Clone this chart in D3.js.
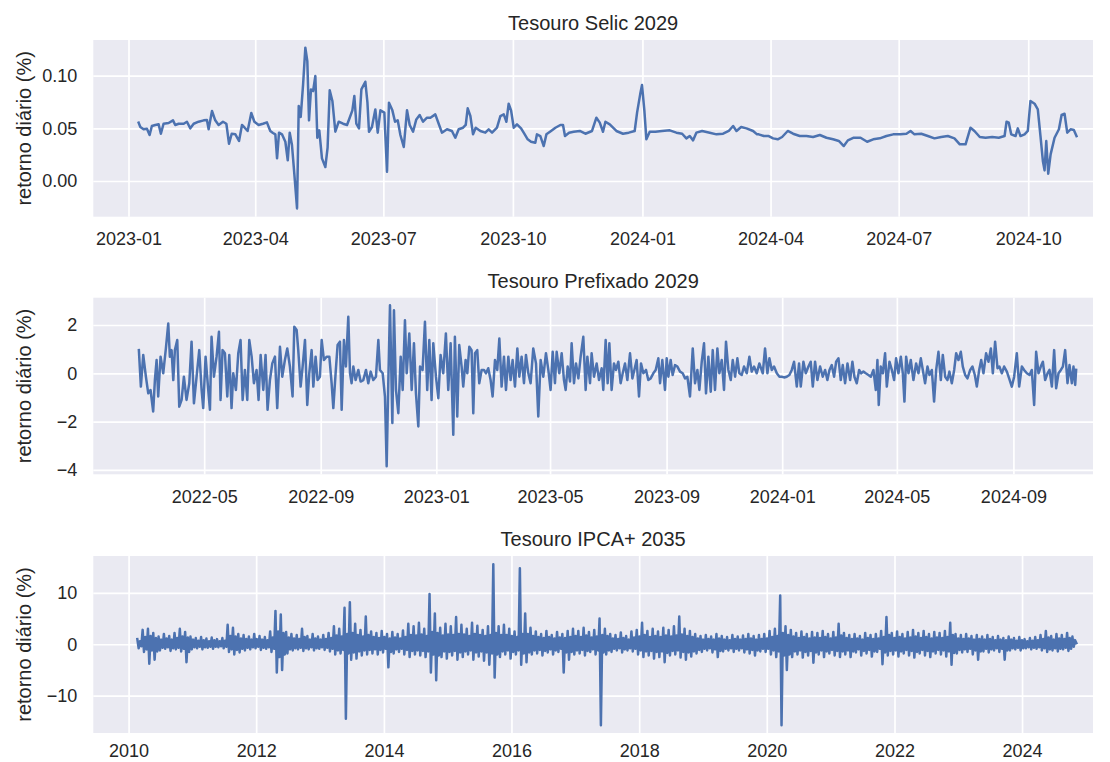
<!DOCTYPE html>
<html>
<head>
<meta charset="utf-8">
<script src="https://cdn.jsdelivr.net/npm/d3@7"></script>
<style>
  body { margin: 0; background: #ffffff; }
  text { font-family: "Liberation Sans", Arial, sans-serif; fill: #262626; }
</style>
</head>
<body>
<div id="chart"></div>
<script>
// Tesouro Selic 2029: days after 2023-01-01 and daily return (%)
const selicBase = "2023-01-01";
const selicDays = [7.2,8.4,10.7,13.1,15.0,16.6,19.0,21.4,23.0,24.9,28.5,31.6,33.2,35.6,39.2,41.5,43.9,46.3,49.8,53.4,55.7,56.9,59.3,61.6,64.0,67.1,69.5,71.4,73.3,75.9,78.5,80.6,82.5,84.6,87.2,89.4,92.4,95.5,98.3,100.7,102.6,104.3,105.5,106.9,109.0,111.4,113.1,114.5,116.1,117.8,119.7,120.9,122.3,124.0,125.6,127.0,128.2,129.6,131.1,132.7,134.1,135.5,137.4,139.8,141.4,142.9,144.8,146.9,149.3,152.4,155.2,157.1,159.0,160.4,161.8,163.7,165.4,168.2,169.7,170.8,172.9,175.3,177.0,178.9,181.7,183.6,185.0,187.4,189.3,191.2,193.1,195.5,197.8,199.7,202.1,204.4,206.8,209.2,212.0,
  214.4,217.9,220.3,222.6,226.2,229.7,232.1,234.5,237.6,239.5,240.9,242.8,244.7,246.6,249.9,253.4,255.8,258.2,261.7,264.1,266.5,268.4,270.0,271.7,273.6,275.9,278.8,281.1,283.5,285.9,288.9,290.1,292.5,294.9,296.8,300.1,303.2,306.7,308.6,310.0,312.9,316.2,320.5,324.5,329.2,332.3,334.7,337.0,338.7,341.8,346.5,351.2,355.3,359.5,361.2,363.6,364.7,366.4,367.8,370.2,374.2,378.9,384.4,389.1,393.2,396.2,398.6,401.0,403.3,407.4,412.8,417.6,422.3,426.3,429.4,431.8,435.1,438.9,443.6,446.4,
  447.6,451.2,454.7,457.8,461.1,464.2,468.2,472.0,476.7,481.5,486.2,491.0,495.7,500.4,504.5,508.0,510.9,515.1,519.9,524.6,528.9,533.6,538.3,543.1,548.3,552.5,555.4,558.2,563.0,567.7,572.4,577.2,581.9,586.6,590.4,594.5,598.0,600.8,604.6,608.7,613.4,618.1,622.2,623.6,625.2,626.9,630.0,631.6,633.5,636.4,638.7,640.6,643.5,645.8,647.7,649.4,650.6,651.8,653.2,654.9,657.7,660.8,662.7,664.8,666.7,669.1,671.4,673.3];
const selicValues = [0.0554,0.0513,0.0491,0.0497,0.0437,0.0522,0.0532,0.0538,0.0449,0.0544,0.0551,0.0576,0.0532,0.0544,0.0544,0.0563,0.0500,0.0544,0.0563,0.0576,0.0579,0.0491,0.0665,0.0576,0.0532,0.0563,0.0544,0.0354,0.0449,0.0443,0.0380,0.0532,0.0506,0.0475,0.0646,0.0563,0.0532,0.0544,0.0557,0.0475,0.0456,0.0443,0.0215,0.0459,0.0443,0.0373,0.0196,0.0459,0.0342,0.0063,-0.0260,0.0712,0.0608,0.0918,0.1266,0.1139,0.0576,0.0870,0.0854,0.0997,0.0411,0.0481,0.0215,0.0133,0.0316,0.0861,0.0760,0.0468,0.0563,0.0544,0.0532,0.0601,0.0671,0.0807,0.0544,0.0500,0.0870,0.0943,0.0744,0.0468,0.0513,0.0680,0.0459,0.0671,0.0649,0.0089,0.0744,0.0671,0.0563,0.0576,0.0437,0.0323,0.0671,0.0532,0.0468,0.0585,0.0627,0.0563,0.0601,
  0.0601,0.0633,0.0544,0.0459,0.0491,0.0475,0.0411,0.0491,0.0506,0.0532,0.0690,0.0617,0.0443,0.0506,0.0475,0.0459,0.0491,0.0459,0.0506,0.0617,0.0633,0.0563,0.0734,0.0671,0.0506,0.0538,0.0500,0.0449,0.0396,0.0373,0.0364,0.0443,0.0427,0.0332,0.0443,0.0475,0.0506,0.0532,0.0532,0.0427,0.0459,0.0468,0.0475,0.0449,0.0475,0.0601,0.0554,0.0468,0.0563,0.0538,0.0475,0.0449,0.0459,0.0475,0.0649,0.0839,0.0911,0.0665,0.0396,0.0468,0.0468,0.0475,0.0481,0.0459,0.0449,0.0405,0.0427,0.0386,0.0459,0.0475,0.0459,0.0443,0.0449,0.0475,0.0522,0.0475,0.0513,0.0500,0.0475,0.0443,
  0.0443,0.0427,0.0427,0.0405,0.0396,0.0418,0.0475,0.0449,0.0427,0.0427,0.0418,0.0437,0.0411,0.0396,0.0380,0.0332,0.0386,0.0411,0.0411,0.0373,0.0396,0.0405,0.0427,0.0443,0.0443,0.0449,0.0475,0.0443,0.0449,0.0427,0.0405,0.0418,0.0427,0.0405,0.0348,0.0348,0.0506,0.0475,0.0418,0.0411,0.0418,0.0411,0.0427,0.0563,0.0554,0.0443,0.0427,0.0500,0.0427,0.0443,0.0475,0.0760,0.0734,0.0680,0.0427,0.0190,0.0101,0.0380,0.0070,0.0253,0.0411,0.0491,0.0627,0.0639,0.0459,0.0491,0.0484,0.0427];

// Tesouro Prefixado 2029: days after 2022-01-01 and daily return (%)
const prefBase = "2022-01-01";
const prefDays = [51.1,53.2,55.7,58.5,61.0,63.4,66.2,68.0,69.8,71.5,74.0,76.8,79.6,82.1,83.8,85.6,87.4,89.1,91.6,93.7,96.2,98.6,101.4,104.3,106.7,109.2,112.0,114.8,117.3,119.0,121.5,124.3,126.1,127.8,130.3,133.1,135.6,137.3,139.4,141.9,144.4,146.5,148.9,150.7,153.5,156.0,158.4,160.6,163.0,165.5,167.6,170.1,172.5,175.3,177.4,179.6,182.4,184.8,186.9,189.4,191.9,194.7,197.1,200.0,202.4,205.2,207.7,210.5,213.3,215.1,217.6,219.3,221.8,223.9,226.4,228.8,230.9,233.4,235.2,237.6,239.7,242.2,244.0,246.4,249.2,252.1,254.5,256.3,258.7,260.8,263.3,265.1,267.5,269.6,272.1,273.9,275.6,277.4,279.8,282.7,285.1,287.9,290.8,293.2,295.7,298.5,301.3,303.8,305.5,308.4,310.8,312.6,314.3,316.1,318.6,320.3,322.4,324.9,327.4,329.5,331.9,333.7,336.5,339.0,341.4,343.5,346.0,347.8,
  350.5,353.0,355.4,357.6,360.0,361.8,364.6,367.1,369.5,372.3,375.1,377.6,380.1,382.9,384.6,387.1,389.2,391.7,393.4,395.9,397.7,399.8,402.2,404.0,405.8,408.2,410.3,412.8,415.3,417.4,419.8,422.3,424.4,426.9,429.3,431.5,433.9,436.4,438.5,441.0,443.4,445.5,448.0,450.5,452.6,455.0,457.5,459.6,462.1,464.5,467.3,470.2,472.6,475.1,477.9,480.7,483.2,485.6,487.8,490.2,492.0,494.8,497.3,499.7,501.5,503.6,506.1,507.8,510.3,512.4,514.9,517.3,520.1,522.6,524.4,527.2,528.9,531.4,534.2,536.7,539.5,541.2,543.7,545.8,547.6,550.0,552.5,554.6,557.1,559.5,561.7,564.1,566.6,569.4,571.9,574.0,576.4,578.9,581.0,583.5,586.3,588.7,591.2,594.0,596.5,599.3,601.1,603.5,606.3,608.1,609.9,612.3,614.4,616.9,619.4,622.2,625.0,627.5,629.9,632.7,635.6,638.0,640.5,642.6,645.1,647.5,649.6,652.1,654.6,656.7,659.1,661.6,663.7,666.2,668.6,670.7,673.2,675.7,677.8,680.3,682.7,684.8,687.3,689.7,692.6,695.4,697.8,700.3,703.1,705.9,
  709.5,711.9,714.4,716.5,719.0,721.4,724.3,727.1,729.5,732.0,734.8,737.6,740.1,742.5,745.4,747.8,749.6,752.4,754.9,757.7,760.1,762.3,764.7,767.2,770.0,772.8,775.3,777.7,779.9,782.3,784.8,786.9,789.4,791.8,793.9,796.4,798.9,801.7,804.1,806.2,808.7,811.2,813.3,815.7,818.2,821.0,823.5,826.3,828.8,830.5,831.9,834.0,836.2,838.6,840.4,843.2,845.7,848.1,850.2,852.7,855.2,857.3,859.0,860.8,863.3,865.7,868.5,871.3,873.8,876.3,878.4,880.8,883.3,885.4,887.9,890.3,892.5,894.9,897.4,899.5,902.0,904.4,906.5,909.0,911.5,913.6,916.0,918.5,920.6,923.1,925.5,928.4,930.8,933.3,935.4,937.9,940.0,942.4,945.2,947.7,950.2,952.3,954.7,957.2,959.3,961.8,964.2,967.1,969.5,972.3,974.8,977.6,980.1,982.9,985.3,988.2,991.0,993.4,995.9,998.0,1000.5,1002.9,1005.1,1007.5,1010.0,1012.1,1014.6,1017.0,1019.1,1021.6,1024.1,1026.2,1028.6,1031.1,1033.2,1035.7,1037.4,1039.2,1040.2];
const prefValues = [0.96,-0.55,0.76,-0.14,-0.83,-0.69,-1.58,-0.28,0.55,-0.96,0.69,0,1.03,2.06,0.69,0.96,-0.28,0.96,1.38,-1.38,-1.10,-0.14,-1.10,-0.41,1.31,-1.24,-0.14,0.96,-0.69,-1.44,0.69,-0.69,-1.51,1.51,-0.14,0.69,1.72,-1.10,0.96,0.83,-0.96,0.76,-1.44,0,-0.69,0.83,1.38,-1.10,0.14,-1.10,1.38,0.69,-0.41,0.14,-1.10,0.76,-0.69,0.76,-1.51,-0.28,0.41,0.69,-1.44,1.10,-0.14,0.55,1.03,0.28,-0.96,1.93,1.79,0.96,-0.55,0.28,1.38,-1.31,0,0.96,-0.55,0.69,-0.28,-0.14,1.38,0.55,0.69,0.69,-0.41,-1.44,0,1.17,1.31,-1.51,1.38,0.28,2.34,0,-0.41,0.28,-0.28,0.14,-0.34,-0.28,0.14,-0.41,0.07,-0.28,-0.14,1.38,0.14,0,-0.96,-3.85,-0.41,2.82,-2.06,2.61,-0.69,-1.65,0.69,-0.69,2.20,0,1.65,-0.69,1.24,-0.83,-2.20,0.28,
  0.14,2.13,-0.69,1.38,-1.10,1.24,-0.14,-1.03,0.76,0,1.65,-0.69,1.24,-2.54,1.51,-1.79,1.17,0.28,-0.55,0.55,0,1.10,0.96,-1.65,0.83,0.96,-0.41,0.14,0.14,0,0.21,-0.28,-0.96,0.55,0.14,1.44,-0.55,0.69,-0.69,0.69,-0.28,0.55,-0.55,1.03,-0.14,0.69,-0.41,0.76,0,-0.41,1.03,0.41,-1.79,0.55,-0.14,0.83,0.14,-0.69,0.89,-0.41,0.89,0,0.83,-0.28,-0.69,0.28,-0.34,1.24,-0.41,0.41,-0.21,0.69,1.51,-0.69,0.69,-0.41,0.83,-0.14,0.41,-0.28,0.21,-0.69,1.38,-0.41,1.24,-0.69,0.41,0.14,0.48,-0.41,0,0.41,-0.28,0.83,-0.21,0.14,0.55,-0.96,0.41,0,0.14,-0.28,-0.21,0,0.14,0.62,-0.41,0.55,-0.69,0.62,-0.14,0.55,-0.07,0.34,0.28,0.07,0,-0.21,-0.14,-0.96,1.03,-0.41,0.14,-0.69,0.48,1.24,-0.83,0.69,-0.76,0.96,-0.69,1.03,0,0.55,-0.69,1.31,0.14,-0.28,0.55,-0.14,0.62,0,-0.07,0.28,0,0.69,0.07,0.28,0,0.41,
  0,1.03,0,0.62,0.14,0.28,0,-0.14,-0.14,-0.17,-0.14,-0.07,0.14,0.48,-0.55,0.41,-0.55,0.48,0,0.28,0.48,-0.55,0.48,-0.28,0.28,-0.14,0.14,-0.28,0.14,0.34,-0.14,0.48,0.62,-0.28,0.34,-0.41,0.41,-0.28,0.48,-0.14,-0.41,0.14,0,0.07,0,-0.07,-0.14,0.14,-0.69,0.55,-1.31,0.28,0,0.83,-0.55,0.48,0.14,-0.28,0.62,0,0.69,0,-1.17,0.69,0,0.55,-0.28,0.41,0,0.62,0.14,-0.41,0.28,-0.07,0.14,-1.17,0.14,0.89,-0.28,0.76,-0.14,-0.28,0.07,-0.41,0.14,0.83,0.55,0.89,0.28,-0.07,-0.21,0.14,0.28,-0.07,-0.55,0.14,0.55,0,0.83,0.48,1.03,0,1.31,0.21,0.28,0,0.28,0.07,-0.21,-0.55,-0.14,0.83,-0.55,0.28,0.14,0,-0.07,0.14,-1.31,0.89,0,0.28,0.48,-0.28,0,0.14,-0.55,0.96,-0.62,0,0.14,0.28,0.96,-0.41,0.34,-0.41,0.28,-0.48,0.14];

// Tesouro IPCA+ 2035: evenly spaced readings (4 per month: high, low, inner high, inner low)
const ipcaStart = "2010-02-20";
const ipcaEnd = "2024-11-07";
const ipcaValues = [
  1.0,-0.8,0.6,-0.4, 2.8,-1.5,1.4,-1.0, 3.0,-3.8,1.6,-1.2, 2.2,-3.0,1.2,-1.4, 1.5,-1.2,0.9,-0.7,
  2.0,-0.9,1.1,-0.6, 1.6,-1.3,0.9,-0.8, 2.2,-1.0,1.2,-0.7, 3.0,-1.4,1.5,-0.9, 2.4,-3.5,1.3,-1.5,
  1.5,-1.0,0.9,-0.6, 1.2,-0.8,0.7,-0.5, 1.4,-1.0,0.8,-0.6, 1.1,-0.7,0.6,-0.5, 1.3,-0.9,0.8,-0.5,
  1.0,-0.6,0.6,-0.4, 1.2,-0.8,0.7,-0.5, 3.8,-1.5,1.6,-1.0, 3.2,-2.0,1.5,-1.1, 2.0,-1.6,1.1,-0.9,
  1.8,-1.2,1.0,-0.7, 1.5,-1.0,0.9,-0.6, 2.0,-0.8,1.0,-0.5, 1.6,-1.1,0.9,-0.7, 1.4,-0.9,0.8,-0.6,
  2.5,-1.5,1.3,-0.9, 6.5,-5.5,2.5,-2.5, 5.8,-5.0,2.2,-2.0, 2.4,-1.8,1.3,-1.0, 2.0,-1.2,1.1,-0.8,
  1.8,-1.0,1.0,-0.7, 3.0,-1.3,1.4,-0.8, 1.6,-1.0,0.9,-0.6, 2.0,-1.2,1.1,-0.8, 1.5,-0.9,0.9,-0.6,
  1.8,-1.1,1.0,-0.7, 2.2,-1.4,1.2,-0.9, 3.5,-2.0,1.7,-1.2, 3.0,-1.8,1.5,-1.1, 7.1,-14.5,2.0,-1.8,
  8.2,-3.0,2.2,-1.6, 4.0,-2.8,1.8,-1.4, 2.8,-2.2,1.5,-1.2, 5.4,-2.0,1.8,-1.1, 2.5,-1.8,1.4,-1.0,
  2.2,-2.0,1.2,-1.1, 2.6,-1.6,1.4,-0.9, 2.0,-4.5,1.1,-1.5, 2.4,-1.8,1.3,-1.0, 2.0,-1.5,1.1,-0.9,
  2.7,-2.0,1.4,-1.1, 4.0,-2.5,1.8,-1.3, 3.5,-2.0,1.7,-1.2, 4.2,-2.2,1.9,-1.3, 3.0,-2.5,1.6,-1.4,
  9.8,-5.5,2.4,-2.0, 6.0,-7.0,2.2,-2.2, 3.2,-2.5,1.7,-1.4, 4.0,-2.8,1.9,-1.5, 3.5,-2.2,1.8,-1.3,
  5.3,-3.0,2.0,-1.6, 3.8,-2.5,1.9,-1.4, 3.0,-2.0,1.6,-1.2, 4.2,-3.0,2.0,-1.6, 3.6,-2.4,1.8,-1.4,
  2.8,-3.2,1.6,-1.6, 3.5,-4.0,1.8,-1.8, 15.6,-6.5,2.2,-2.0, 3.5,-2.5,1.8,-1.4, 3.8,-2.0,1.8,-1.2,
  3.0,-2.8,1.6,-1.5, 2.5,-2.0,1.4,-1.2, 14.8,-4.0,2.0,-1.8, 6.0,-3.5,2.0,-1.6, 3.2,-2.0,1.6,-1.2,
  2.5,-1.8,1.4,-1.1, 2.0,-2.2,1.2,-1.3, 2.6,-1.6,1.4,-1.0, 1.8,-2.0,1.1,-1.2, 2.4,-1.5,1.3,-0.9,
  2.0,-5.5,1.2,-1.6, 2.6,-3.0,1.4,-1.5, 3.0,-2.0,1.6,-1.2, 2.6,-1.8,1.4,-1.1, 3.2,-2.2,1.7,-1.3,
  2.4,-1.5,1.3,-1.0, 2.8,-2.0,1.5,-1.2, 5.0,-15.8,1.8,-1.6, 3.0,-2.0,1.6,-1.2, 2.0,-1.5,1.1,-0.9,
  1.8,-1.2,1.0,-0.8, 2.3,-1.6,1.2,-1.0, 1.6,-1.2,0.9,-0.8, 2.5,-1.4,1.3,-0.9, 2.8,-2.0,1.5,-1.2,
  4.2,-2.5,1.8,-1.4, 2.6,-2.2,1.4,-1.3, 3.0,-2.8,1.6,-1.5, 2.5,-2.5,1.4,-1.4, 3.2,-3.5,1.7,-1.7,
  2.8,-2.2,1.5,-1.3, 3.5,-2.0,1.7,-1.2, 5.4,-2.6,1.9,-1.5, 3.0,-3.0,1.6,-1.6, 2.6,-2.4,1.4,-1.4,
  2.0,-1.8,1.1,-1.1, 1.6,-1.5,0.9,-0.9, 1.8,-1.2,1.0,-0.8, 1.5,-1.6,0.9,-1.0, 2.0,-2.5,1.1,-1.3,
  1.6,-1.4,0.9,-0.9, 1.4,-1.2,0.8,-0.8, 1.8,-1.5,1.0,-0.9, 1.5,-1.2,0.9,-0.8, 1.7,-1.6,1.0,-1.0,
  2.0,-1.8,1.1,-1.1, 1.6,-2.2,0.9,-1.2, 1.8,-1.4,1.0,-0.9, 2.0,-1.5,1.1,-0.9, 2.6,-2.0,1.4,-1.2,
  3.0,-2.5,1.6,-1.4, 9.5,-15.8,2.2,-2.2, 3.5,-5.0,1.8,-2.0, 2.8,-2.5,1.5,-1.4, 2.2,-2.0,1.2,-1.2,
  2.5,-2.6,1.4,-1.5, 2.0,-2.2,1.1,-1.3, 2.4,-3.6,1.3,-1.6, 2.2,-2.0,1.2,-1.2, 2.6,-2.5,1.4,-1.4,
  2.0,-1.8,1.1,-1.1, 2.4,-2.2,1.3,-1.3, 4.0,-2.5,1.7,-1.4, 2.2,-2.0,1.2,-1.2, 1.8,-2.5,1.0,-1.4,
  2.0,-1.6,1.1,-1.0, 1.6,-2.2,0.9,-1.3, 2.2,-1.8,1.2,-1.1, 1.8,-2.4,1.0,-1.4, 2.0,-1.5,1.1,-0.9,
  2.6,-3.9,1.4,-1.6, 5.3,-2.2,1.8,-1.3, 2.2,-2.0,1.2,-1.2, 2.5,-2.4,1.4,-1.4, 2.0,-1.8,1.1,-1.1,
  2.4,-2.2,1.3,-1.3, 2.8,-2.6,1.5,-1.5, 2.2,-1.8,1.2,-1.1, 2.6,-2.2,1.4,-1.3, 2.0,-2.5,1.1,-1.4,
  2.4,-1.8,1.3,-1.1, 2.2,-2.0,1.2,-1.2, 2.6,-2.4,1.4,-1.4, 4.2,-4.0,1.8,-1.7, 2.0,-1.8,1.1,-1.1,
  1.8,-1.6,1.0,-1.0, 2.0,-1.5,1.1,-0.9, 1.6,-2.0,0.9,-1.2, 1.8,-3.0,1.0,-1.4, 1.5,-1.4,0.9,-0.9,
  1.8,-1.6,1.0,-1.0, 1.4,-1.2,0.8,-0.8, 1.6,-1.5,0.9,-0.9, 1.2,-3.0,0.8,-1.2, 1.5,-1.2,0.9,-0.8,
  1.2,-1.0,0.7,-0.7, 1.4,-1.2,0.8,-0.8, 1.0,-0.8,0.6,-0.6, 1.2,-1.0,0.7,-0.7, 1.4,-0.9,0.8,-0.6,
  1.8,-1.2,1.0,-0.8, 2.6,-1.5,1.3,-1.0, 1.6,-1.2,0.9,-0.8, 2.0,-1.4,1.1,-0.9, 1.8,-1.0,1.0,-0.7,
  2.2,-1.3,1.2,-0.9, 1.5,-0.5,0.8,0.2];

// axis ticks
const selicTicks = ["2023-01","2023-04","2023-07","2023-10","2024-01","2024-04","2024-07","2024-10"];
const prefTicks = ["2022-05","2022-09","2023-01","2023-05","2023-09","2024-01","2024-05","2024-09"];
const ipcaTicks = ["2010","2012","2014","2016","2018","2020","2022","2024"];
const selicYTicks = [0, 0.05, 0.10];
const prefYTicks = [-4, -2, 0, 2];
const ipcaYTicks = [-10, 0, 10];

const width = 1110, height = 762;
const left = 93.3, right = 1093;
const lineColor = "#4C72B0";
const DAY = 86400000;
const parseDay = d3.utcParse("%Y-%m-%d");
const parseMonth = d3.utcParse("%Y-%m");
const parseYear = d3.utcParse("%Y");

function fromBase(base, days) {
  var b = parseDay(base).getTime();
  return days.map(function (d) { return new Date(b + d * DAY); });
}

var selicDates = fromBase(selicBase, selicDays);
var prefDates = fromBase(prefBase, prefDays);
var ipcaIndex = d3.scaleLinear()
  .domain([0, ipcaValues.length - 1])
  .range([parseDay(ipcaStart).getTime(), parseDay(ipcaEnd).getTime()]);
var ipcaDates = ipcaValues.map(function (d, i) { return new Date(ipcaIndex(i)); });

var svg = d3.select("#chart")
  .append("svg")
  .attr("width", width)
  .attr("height", height);

function drawPanel(p) {
  var x = d3.scaleUtc().domain(p.xDomain).range([left, right]);
  var y = d3.scaleLinear().domain(p.yDomain).range([p.bottom, p.top]);
  var g = svg.append("g");

  g.append("rect")
    .attr("x", left)
    .attr("y", p.top)
    .attr("width", right - left)
    .attr("height", p.bottom - p.top)
    .attr("fill", "#EAEAF2");

  // y axis + horizontal grid
  var yAxis = g.append("g")
    .attr("transform", "translate(" + left + ",0)")
    .call(d3.axisLeft(y)
      .tickValues(p.yTicks)
      .tickFormat(p.yFormat)
      .tickSizeInner(-(right - left))
      .tickSizeOuter(0)
      .tickPadding(16));
  yAxis.select(".domain").remove();
  yAxis.selectAll("line").attr("stroke", "#ffffff").attr("stroke-width", 1.7);
  yAxis.selectAll("text").style("font-size", "18px").attr("fill", "#262626");

  // x axis + vertical grid
  var xAxis = g.append("g")
    .attr("transform", "translate(0," + p.bottom + ")")
    .call(d3.axisBottom(x)
      .tickValues(p.xTicks.map(p.xParse))
      .tickFormat(function (d, i) { return p.xTicks[i]; })
      .tickSizeInner(-(p.bottom - p.top))
      .tickSizeOuter(0)
      .tickPadding(p.xPad));
  xAxis.select(".domain").remove();
  xAxis.selectAll("line").attr("stroke", "#ffffff").attr("stroke-width", 1.7);
  xAxis.selectAll("text").style("font-size", "18px").attr("fill", "#262626");

  var line = d3.line()
    .x(function (d) { return x(d[0]); })
    .y(function (d) { return y(d[1]); });

  g.append("path")
    .datum(d3.zip(p.dates, p.values))
    .attr("d", line)
    .attr("fill", "none")
    .attr("stroke", lineColor)
    .attr("stroke-width", 2.5)
    .attr("stroke-linejoin", "round")
    .attr("stroke-linecap", "square");

  // title
  g.append("text")
    .attr("x", (left + right) / 2)
    .attr("y", p.top - 10)
    .attr("text-anchor", "middle")
    .style("font-size", "20px")
    .text(p.title);

  // y label
  g.append("text")
    .attr("transform", "translate(31," + (p.top + p.bottom) / 2 + ") rotate(-90)")
    .attr("text-anchor", "middle")
    .style("font-size", "20px")
    .text("retorno diário (%)");
}

drawPanel({
  title: "Tesouro Selic 2029",
  top: 40, bottom: 216.7, xPad: 16,
  xDomain: [parseDay("2022-12-07"), parseDay("2024-11-16")],
  yDomain: [-0.0339, 0.1339],
  xTicks: selicTicks, xParse: parseMonth,
  yTicks: selicYTicks, yFormat: d3.format(".2f"),
  dates: selicDates, values: selicValues
});

drawPanel({
  title: "Tesouro Prefixado 2029",
  top: 297.7, bottom: 474.3, xPad: 16,
  xDomain: [parseDay("2022-01-04"), parseDay("2024-11-24")],
  yDomain: [-4.18, 3.13],
  xTicks: prefTicks, xParse: parseMonth,
  yTicks: prefYTicks, yFormat: d3.format("d"),
  dates: prefDates, values: prefValues
});

drawPanel({
  title: "Tesouro IPCA+ 2035",
  top: 556, bottom: 733, xPad: 11,
  xDomain: [parseDay("2009-06-13"), parseDay("2025-02-10")],
  yDomain: [-17.3, 17.2],
  xTicks: ipcaTicks, xParse: parseYear,
  yTicks: ipcaYTicks, yFormat: d3.format("d"),
  dates: ipcaDates, values: ipcaValues
});
</script>
</body>
</html>
